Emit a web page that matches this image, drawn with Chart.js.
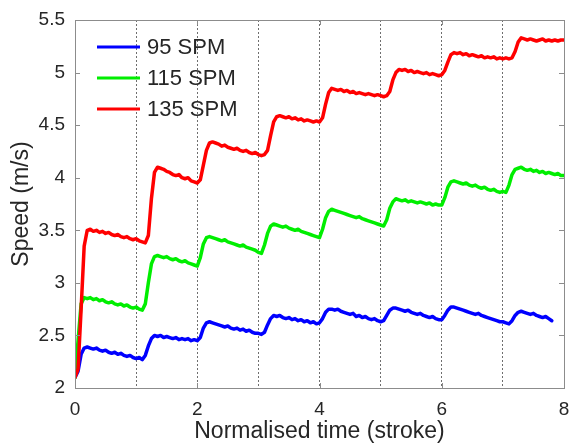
<!DOCTYPE html>
<html>
<head>
<meta charset="utf-8">
<script src="https://cdn.jsdelivr.net/npm/chart.js@4/dist/chart.umd.min.js"></script>
<style>
  html, body { margin: 0; padding: 0; background: #ffffff; }
  #wrap { width: 571px; height: 443px; position: relative; }
</style>
</head>
<body>
<div id="wrap"><canvas id="c" width="571" height="443"></canvas></div>
<script>
// Normalised time (stroke), sampled every 0.05 stroke
const timeStroke = [
  0.00,0.05,0.10,0.15,0.20,0.25,0.30,0.35,0.40,0.45,0.50,0.55,0.60,0.65,0.70,0.75,0.80,0.85,0.90,0.95,
  1.00,1.05,1.10,1.15,1.20,1.25,1.30,1.35,1.40,1.45,1.50,1.55,1.60,1.65,1.70,1.75,1.80,1.85,1.90,1.95,
  2.00,2.05,2.10,2.15,2.20,2.25,2.30,2.35,2.40,2.45,2.50,2.55,2.60,2.65,2.70,2.75,2.80,2.85,2.90,2.95,
  3.00,3.05,3.10,3.15,3.20,3.25,3.30,3.35,3.40,3.45,3.50,3.55,3.60,3.65,3.70,3.75,3.80,3.85,3.90,3.95,
  4.00,4.05,4.10,4.15,4.20,4.25,4.30,4.35,4.40,4.45,4.50,4.55,4.60,4.65,4.70,4.75,4.80,4.85,4.90,4.95,
  5.00,5.05,5.10,5.15,5.20,5.25,5.30,5.35,5.40,5.45,5.50,5.55,5.60,5.65,5.70,5.75,5.80,5.85,5.90,5.95,
  6.00,6.05,6.10,6.15,6.20,6.25,6.30,6.35,6.40,6.45,6.50,6.55,6.60,6.65,6.70,6.75,6.80,6.85,6.90,6.95,
  7.00,7.05,7.10,7.15,7.20,7.25,7.30,7.35,7.40,7.45,7.50,7.55,7.60,7.65,7.70,7.75,7.80,7.85,7.90,7.95,
  8.00
];

const seriesLabels = ["95 SPM", "115 SPM", "135 SPM"];

// Speed (m/s) at 95 SPM
const speed95 = [
  2.10,2.16,2.32,2.38,2.39,2.38,2.37,2.38,2.36,2.35,2.36,2.34,2.33,2.34,2.32,2.33,2.31,2.30,2.31,2.29,
  2.28,2.29,2.27,2.31,2.40,2.47,2.50,2.49,2.50,2.48,2.49,2.48,2.47,2.48,2.46,2.47,2.46,2.47,2.45,2.46,
  2.45,2.48,2.57,2.62,2.63,2.62,2.61,2.60,2.59,2.58,2.59,2.57,2.56,2.57,2.55,2.56,2.54,2.55,2.53,2.52,
  2.52,2.51,2.53,2.60,2.66,2.69,2.68,2.69,2.67,2.66,2.67,2.65,2.66,2.64,2.65,2.63,2.64,2.62,2.63,2.61,
  2.62,2.66,2.72,2.75,2.75,2.74,2.75,2.73,2.72,2.71,2.70,2.71,2.68,2.69,2.67,2.68,2.66,2.65,2.66,2.64,
  2.63,2.64,2.69,2.74,2.76,2.76,2.75,2.74,2.73,2.74,2.72,2.71,2.70,2.71,2.69,2.68,2.67,2.68,2.66,2.65,
  2.65,2.69,2.74,2.77,2.77,2.76,2.75,2.74,2.73,2.72,2.71,2.70,2.71,2.69,2.68,2.67,2.66,2.65,2.64,2.63,
  2.63,2.62,2.61,2.64,2.69,2.72,2.73,2.72,2.71,2.70,2.71,2.69,2.68,2.67,2.68,2.66,2.64,null,null,null,
  null
];

// Speed (m/s) at 115 SPM
const speed115 = [
  2.10,2.45,2.80,2.86,2.85,2.86,2.84,2.85,2.83,2.84,2.82,2.81,2.82,2.80,2.79,2.80,2.78,2.79,2.77,2.76,
  2.77,2.75,2.74,2.80,3.00,3.18,3.25,3.26,3.25,3.24,3.25,3.23,3.22,3.23,3.21,3.20,3.21,3.19,3.18,3.17,
  3.16,3.24,3.37,3.43,3.44,3.43,3.42,3.41,3.40,3.41,3.39,3.38,3.37,3.36,3.35,3.36,3.34,3.33,3.32,3.31,
  3.29,3.28,3.36,3.47,3.54,3.56,3.55,3.54,3.53,3.54,3.52,3.51,3.50,3.51,3.49,3.48,3.47,3.46,3.45,3.44,
  3.43,3.51,3.62,3.68,3.70,3.69,3.68,3.67,3.66,3.65,3.64,3.63,3.62,3.63,3.61,3.60,3.59,3.58,3.57,3.56,
  3.55,3.54,3.60,3.71,3.77,3.80,3.79,3.78,3.79,3.77,3.78,3.77,3.76,3.77,3.76,3.75,3.76,3.74,3.75,3.74,
  3.74,3.81,3.91,3.96,3.97,3.96,3.95,3.94,3.95,3.93,3.92,3.93,3.91,3.90,3.91,3.89,3.88,3.89,3.87,3.86,
  3.87,3.86,3.93,4.03,4.08,4.09,4.10,4.08,4.07,4.08,4.06,4.07,4.05,4.06,4.04,4.05,4.04,4.03,4.04,4.02,
  4.02
];

// Speed (m/s) at 135 SPM
const speed135 = [
  2.10,2.18,2.75,3.35,3.50,3.51,3.49,3.50,3.48,3.49,3.47,3.48,3.46,3.45,3.46,3.44,3.43,3.44,3.42,3.41,
  3.42,3.40,3.39,3.38,3.45,3.80,4.05,4.10,4.09,4.08,4.06,4.05,4.03,4.02,4.03,4.00,3.99,4.00,3.97,3.96,
  3.95,3.98,4.12,4.26,4.33,4.34,4.33,4.32,4.30,4.31,4.29,4.28,4.27,4.28,4.26,4.25,4.26,4.24,4.23,4.24,
  4.22,4.21,4.22,4.26,4.40,4.53,4.58,4.59,4.58,4.57,4.58,4.56,4.57,4.55,4.56,4.54,4.55,4.54,4.53,4.54,
  4.53,4.57,4.70,4.81,4.85,4.84,4.83,4.84,4.82,4.83,4.81,4.82,4.80,4.81,4.80,4.79,4.80,4.79,4.78,4.79,
  4.78,4.77,4.78,4.82,4.93,5.00,5.03,5.02,5.03,5.01,5.02,5.00,5.01,5.00,4.99,5.00,4.98,4.99,4.98,4.97,
  4.98,5.02,5.10,5.17,5.19,5.18,5.19,5.17,5.18,5.16,5.17,5.16,5.15,5.16,5.14,5.15,5.14,5.15,5.13,5.14,
  5.13,5.14,5.13,5.14,5.20,5.29,5.33,5.32,5.31,5.32,5.31,5.30,5.31,5.32,5.30,5.31,5.30,5.31,5.30,5.31,
  5.31
];

const seriesColors = ["#0000ff", "#00ee00", "#ff0000"];

const xTickLabels = ["0", "2", "4", "6", "8"];
const yTickLabels = ["2", "2.5", "3", "3.5", "4", "4.5", "5", "5.5"];

function toPoints(values) {
  return timeStroke.map((t, i) => ({ x: t, y: values[i] }));
}

const FONT = "'Liberation Sans', Arial, Helvetica, sans-serif";
const TEXT = "#262626";
const AXIS = "#8c8c8c";

const boxAndTicks = {
  id: "boxAndTicks",
  afterDraw(chart) {
    const { ctx, chartArea: a, scales } = chart;
    const xs = scales.x, ys = scales.y;
    ctx.save();
    ctx.strokeStyle = AXIS;
    ctx.lineWidth = 1;
    ctx.setLineDash([]);
    ctx.strokeRect(Math.round(a.left) + 0.5, Math.round(a.top) + 0.5,
                   Math.round(a.right - a.left), Math.round(a.bottom - a.top));
    const L = 5;
    ctx.beginPath();
    yTickLabels.forEach(s => {
      const y = Math.round(ys.getPixelForValue(parseFloat(s))) + 0.5;
      ctx.moveTo(a.left, y); ctx.lineTo(a.left + L, y);
      ctx.moveTo(a.right, y); ctx.lineTo(a.right - L, y);
    });
    xTickLabels.forEach(s => {
      const x = Math.round(xs.getPixelForValue(parseFloat(s))) + 0.5;
      ctx.moveTo(x, a.bottom); ctx.lineTo(x, a.bottom - L);
      ctx.moveTo(x, a.top); ctx.lineTo(x, a.top + L);
    });
    ctx.stroke();
    ctx.restore();
  },
  afterDatasetsDraw(chart) {
    const { ctx } = chart;
    ctx.save();
    ctx.font = "22px " + FONT;
    ctx.textBaseline = "middle";
    ctx.textAlign = "left";
    chart.data.datasets.forEach((ds, i) => {
      const y = 47 + i * 31;
      ctx.strokeStyle = ds.borderColor;
      ctx.lineWidth = 3;
      ctx.beginPath();
      ctx.moveTo(97, y); ctx.lineTo(140, y);
      ctx.stroke();
      ctx.fillStyle = TEXT;
      ctx.fillText(ds.label, 147, y + 1);
    });
    ctx.restore();
  }
};

new Chart(document.getElementById("c"), {
  type: "line",
  data: {
    datasets: [
      { label: seriesLabels[0], data: toPoints(speed95), borderColor: seriesColors[0], order: 2 },
      { label: seriesLabels[1], data: toPoints(speed115), borderColor: seriesColors[1], order: 1 },
      { label: seriesLabels[2], data: toPoints(speed135), borderColor: seriesColors[2], order: 0 }
    ].map(d => Object.assign(d, {
      borderWidth: 3.5, pointRadius: 0, tension: 0, fill: false, spanGaps: false,
      borderJoinStyle: "round", borderCapStyle: "round", backgroundColor: d.borderColor
    }))
  },
  options: {
    responsive: false,
    animation: false,
    events: [],
    layout: { padding: { top: 20, right: 7, left: 0, bottom: 0 } },
    plugins: { legend: { display: false }, tooltip: { enabled: false }, title: { display: false } },
    scales: {
      x: {
        type: "linear",
        min: 0, max: 8,
        afterFit(scale) {
          scale.height = 55;
          scale.paddingLeft = 0;
          scale.paddingRight = 0;
        },
        ticks: {
          stepSize: 1,
          autoSkip: false,
          maxRotation: 0,
          padding: 10,
          color: TEXT,
          font: { family: FONT, size: 19 },
          callback: (v) => xTickLabels.includes(String(v)) ? String(v) : ""
        },
        grid: {
          drawTicks: false,
          lineWidth: 1,
          color: (c) => (c.tick && (c.tick.value === 0 || c.tick.value === 8)) ? "rgba(0,0,0,0)" : "#6e6e6e"
        },
        border: { display: false, dash: [2, 2] },
        title: {
          display: true,
          text: "Normalised time (stroke)",
          color: TEXT,
          font: { family: FONT, size: 23, lineHeight: 1 },
          padding: { top: 0, bottom: 0 }
        }
      },
      y: {
        type: "linear",
        min: 2, max: 5.5,
        afterFit(scale) {
          scale.width = 75;
          scale.paddingTop = 0;
          scale.paddingBottom = 0;
        },
        afterBuildTicks(scale) { scale.ticks = yTickLabels.map(s => ({ value: parseFloat(s) })); },
        ticks: {
          padding: 10,
          color: TEXT,
          font: { family: FONT, size: 19 },
          callback: (v) => yTickLabels.find(s => parseFloat(s) === v) || ""
        },
        grid: { display: false, drawTicks: false },
        border: { display: false },
        title: {
          display: true,
          text: "Speed (m/s)",
          color: TEXT,
          font: { family: FONT, size: 23, lineHeight: 1 },
          padding: { top: 10, bottom: 0 }
        }
      }
    }
  },
  plugins: [boxAndTicks]
});
</script>
</body>
</html>
